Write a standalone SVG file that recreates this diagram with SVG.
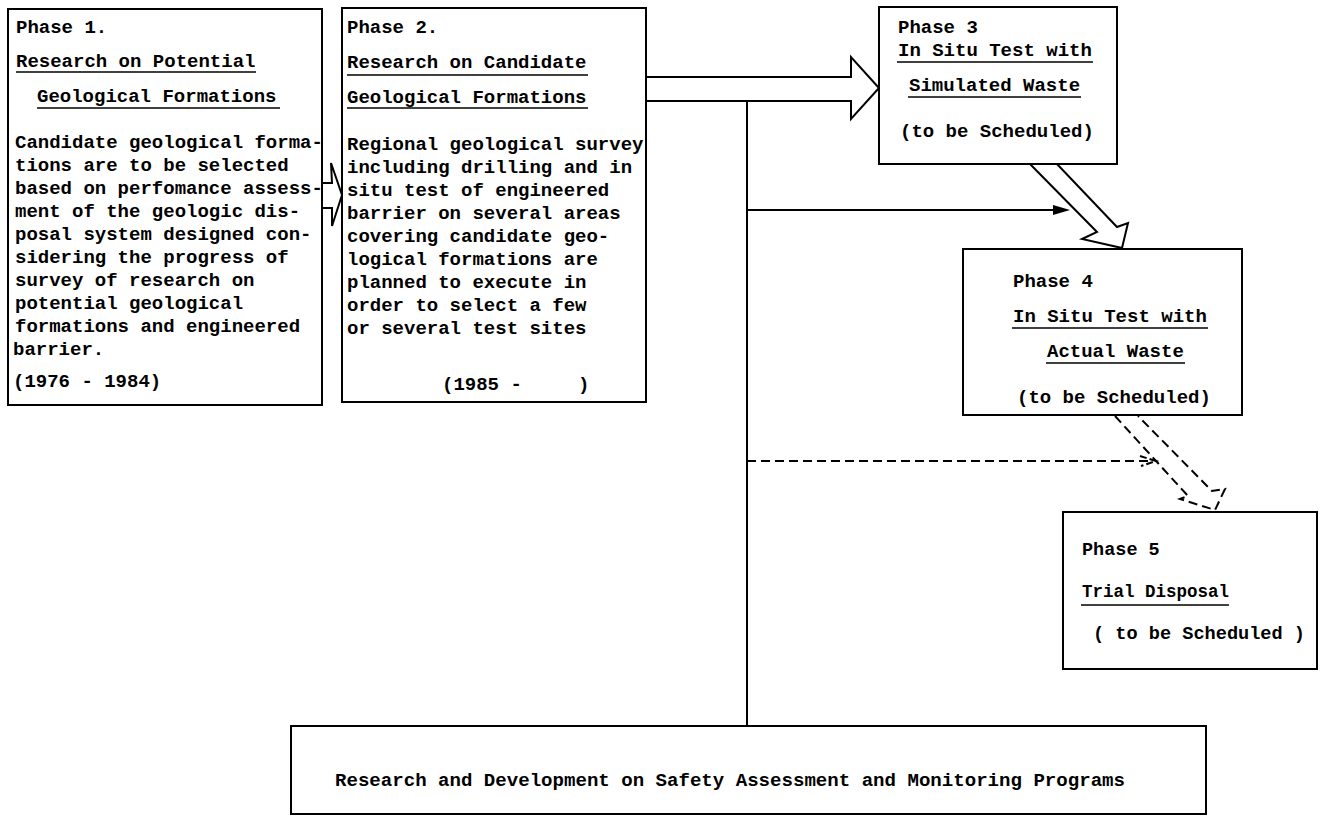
<svg xmlns="http://www.w3.org/2000/svg" width="1322" height="821" viewBox="0 0 1322 821">
  <style>
    .box { fill: #fff; stroke: #000; stroke-width: 2; }
    .t { font-family: "Liberation Mono", "Courier New", monospace; font-weight: bold; font-size: 19px; fill: #000; }
    .t5 { font-family: "Liberation Mono", "Courier New", monospace; font-weight: bold; font-size: 18.5px; fill: #000; }
    .ul { stroke: #000; stroke-width: 1.6; }
    .wire { fill: none; stroke: #000; stroke-width: 2; }
    .block { fill: #fff; stroke: #000; stroke-width: 2; stroke-linejoin: miter; }
    .dash { fill: none; stroke: #000; stroke-width: 2; stroke-dasharray: 9 5; }
  </style>
  <rect width="1322" height="821" fill="#fff"/>

  <!-- connectors -->
  <g id="connectors">
    <!-- phase 1 to phase 2 -->
    <polygon class="block" points="322,183 332,183 331,163 342,195 332,226 332,208 322,208"/>
    <!-- phase 2 to phase 3 -->
    <polygon class="block" points="646,77 851,77 851,57 879,88 851,119 851,101 646,101"/>
    <!-- spine from the R&amp;D programme -->
    <line class="wire" x1="747" y1="101" x2="747" y2="726"/>
    <line class="wire" x1="747" y1="210" x2="1055" y2="210"/>
    <polygon points="1053,205 1070,210 1053,215" fill="#000"/>
    <!-- phase 3 to phase 4 -->
    <polygon class="block" points="1030,164 1097,232 1082,239 1122,248 1128,223 1117,227 1057,164"/>
    <!-- dashed links toward phase 5 -->
    <line class="dash" x1="747" y1="461" x2="1150" y2="461"/>
    <polyline class="wire" points="1140,456 1156,461 1141,466" stroke-dasharray="7 3"/>
    <polyline class="dash" points="1115,416 1188,496 1180,499 1215,510 1225,489 1212,491 1138,416"/>
  </g>

  <!-- phase 1 -->
  <g id="phase1">
    <rect class="box" x="8" y="9" width="314" height="396"/>
    <text class="t" x="16" y="33">Phase 1.</text>
    <text class="t" x="16" y="67">Research on Potential</text>
    <line class="ul" x1="16" y1="72" x2="256" y2="72"/>
    <text class="t" x="37" y="102">Geological Formations</text>
    <line class="ul" x1="37" y1="108" x2="280" y2="108"/>
    <text class="t" x="15" y="148">Candidate geological forma-</text>
    <text class="t" x="15" y="171">tions are to be selected</text>
    <text class="t" x="15" y="194">based on perfomance assess-</text>
    <text class="t" x="15" y="217">ment of the geologic dis-</text>
    <text class="t" x="15" y="240">posal system designed con-</text>
    <text class="t" x="15" y="263">sidering the progress of</text>
    <text class="t" x="15" y="286">survey of research on</text>
    <text class="t" x="15" y="309">potential geological</text>
    <text class="t" x="15" y="332">formations and engineered</text>
    <text class="t" x="13" y="355">barrier.</text>
    <text class="t" x="13" y="387">(1976 - 1984)</text>
  </g>

  <!-- phase 2 -->
  <g id="phase2">
    <rect class="box" x="342" y="8" width="304" height="394"/>
    <text class="t" x="347" y="33">Phase 2.</text>
    <text class="t" x="347" y="68">Research on Candidate</text>
    <line class="ul" x1="347" y1="75" x2="588" y2="75"/>
    <text class="t" x="347" y="103">Geological Formations</text>
    <line class="ul" x1="347" y1="108" x2="588" y2="108"/>
    <text class="t" x="347" y="150">Regional geological survey</text>
    <text class="t" x="347" y="173">including drilling and in</text>
    <text class="t" x="347" y="196">situ test of engineered</text>
    <text class="t" x="347" y="219">barrier on several areas</text>
    <text class="t" x="347" y="242">covering candidate geo-</text>
    <text class="t" x="347" y="265">logical formations are</text>
    <text class="t" x="347" y="288">planned to execute in</text>
    <text class="t" x="347" y="311">order to select a few</text>
    <text class="t" x="347" y="334">or several test sites</text>
    <text class="t" x="442" y="390">(1985 -</text>
    <text class="t" x="578" y="390">)</text>
  </g>

  <!-- phase 3 -->
  <g id="phase3">
    <rect class="box" x="879" y="7" width="238" height="157"/>
    <text class="t" x="898" y="33">Phase 3</text>
    <text class="t" x="898" y="56">In Situ Test with</text>
    <line class="ul" x1="897" y1="62" x2="1093" y2="62"/>
    <text class="t" x="909" y="91">Simulated Waste</text>
    <line class="ul" x1="908" y1="97" x2="1081" y2="97"/>
    <text class="t" x="900" y="137">(to be Scheduled)</text>
  </g>

  <!-- phase 4 -->
  <g id="phase4">
    <rect class="box" x="963" y="249" width="279" height="166"/>
    <text class="t" x="1013" y="287">Phase 4</text>
    <text class="t" x="1013" y="322">In Situ Test with</text>
    <line class="ul" x1="1012" y1="328" x2="1208" y2="328"/>
    <text class="t" x="1047" y="357">Actual Waste</text>
    <line class="ul" x1="1046" y1="363" x2="1185" y2="363"/>
    <text class="t" x="1017" y="403">(to be Scheduled)</text>
  </g>

  <!-- phase 5 -->
  <g id="phase5">
    <rect class="box" x="1063" y="512" width="254" height="157"/>
    <text class="t5" x="1082" y="555">Phase 5</text>
    <text class="t5" x="1082" y="597" textLength="147" lengthAdjust="spacingAndGlyphs">Trial Disposal</text>
    <line class="ul" x1="1081" y1="605" x2="1229" y2="605"/>
    <text class="t5" x="1093" y="639" textLength="212" lengthAdjust="spacingAndGlyphs">( to be Scheduled )</text>
  </g>

  <!-- safety assessment and monitoring -->
  <g id="rnd">
    <rect class="box" x="291" y="726" width="915" height="88"/>
    <text class="t" x="335" y="786" textLength="790" lengthAdjust="spacingAndGlyphs">Research and Development on Safety Assessment and Monitoring Programs</text>
  </g>
</svg>
